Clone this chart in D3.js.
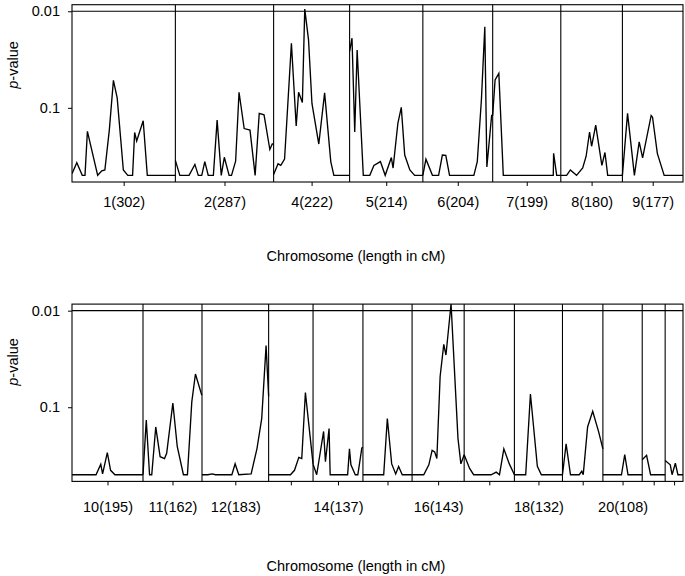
<!DOCTYPE html>
<html><head><meta charset="utf-8">
<script src="https://cdn.jsdelivr.net/npm/d3@7"></script>
<style>body{margin:0;background:#fff}</style>
</head><body>
<script>
// ---- data ----
const topChroms = ["1","2","4","5","6","7","8","9"];
const topLengths = [302,287,222,214,204,199,180,177];
const botChroms = ["10","11","12","13","14","15","16","17","18","19","20","21","22"];
const botLengths = [195,162,183,122,137,135,143,138,132,111,108,63,49];
const botLabelled = ["10","11","12","14","16","18","20"];
const yTicks = [0.01, 0.1];
const threshold = 0.01;

// [position in cM, p-value]
const chr1 = [[0,0.48],[14,0.37],[30,0.5],[38,0.5],[45,0.175],[75,0.5],[87,0.45],[96,0.44],[109,0.17],[121,0.052],[132,0.079],[150,0.44],[163,0.5],[177,0.5],[183,0.18],[189,0.22],[208,0.136],[220,0.5],[302,0.5]];
const chr2 = [[0,0.35],[13,0.5],[40,0.5],[57,0.385],[67,0.5],[77,0.5],[86,0.36],[96,0.5],[111,0.5],[122,0.134],[134,0.5],[143,0.325],[157,0.5],[164,0.5],[176,0.357],[186,0.069],[201,0.164],[218,0.17],[233,0.5],[245,0.114],[259,0.118],[276,0.27],[283,0.237],[287,0.237]];
const chr4 = [[0,0.49],[13,0.38],[21,0.395],[32,0.34],[52,0.0215],[66,0.154],[73,0.069],[84,0.088],[91,0.0095],[102,0.0198],[112,0.09],[132,0.237],[149,0.07],[167,0.36],[176,0.5],[222,0.5]];
const chr5 = [[0,0.026],[7,0.019],[15,0.178],[22,0.0252],[40,0.5],[59,0.5],[71,0.395],[90,0.36],[104,0.5],[122,0.327],[127,0.42],[141,0.145],[151,0.099],[161,0.308],[176,0.44],[190,0.5],[214,0.5]];
const chr6 = [[0,0.5],[9,0.34],[28,0.5],[46,0.5],[57,0.308],[67,0.31],[78,0.5],[149,0.5],[159,0.36],[171,0.083],[181,0.0145],[187,0.41],[201,0.12],[204,0.12]];
const chr7 = [[0,0.12],[7,0.0515],[18,0.044],[31,0.5],[177,0.5],[178,0.296],[187,0.5],[199,0.5]];
const chr8 = [[0,0.5],[17,0.5],[28,0.44],[46,0.5],[64,0.42],[74,0.317],[84,0.178],[90,0.25],[102,0.151],[120,0.395],[129,0.29],[137,0.5],[180,0.5]];
const chr9 = [[0,0.5],[15,0.114],[35,0.5],[49,0.225],[59,0.33],[84,0.12],[88,0.125],[102,0.296],[122,0.5],[177,0.5]];
const chr10 = [[0,0.5],[66,0.5],[79,0.39],[84,0.49],[97,0.295],[106,0.45],[118,0.5],[195,0.5]];
const chr11 = [[0,0.5],[9,0.136],[18,0.5],[24,0.5],[35,0.16],[47,0.325],[59,0.34],[65,0.3],[82,0.0905],[94,0.254],[111,0.5],[122,0.5],[134,0.088],[144,0.0453],[161,0.074],[162,0.075]];
const chr12 = [[0,0.5],[16,0.5],[28,0.49],[37,0.5],[82,0.5],[91,0.385],[101,0.5],[135,0.49],[151,0.268],[164,0.131],[176,0.023],[183,0.077]];
const chr13 = [[0,0.5],[60,0.5],[71,0.45],[83,0.33],[91,0.34],[101,0.0705],[122,0.386]];
const chr14 = [[0,0.39],[10,0.5],[29,0.178],[34,0.366],[44,0.166],[47,0.5],[95,0.5],[100,0.27],[104,0.395],[116,0.5],[123,0.5],[134,0.264],[137,0.26]];
const chr15 = [[0,0.5],[57,0.5],[67,0.131],[79,0.386],[90,0.49],[98,0.41],[108,0.5],[135,0.5]];
const chr16 = [[0,0.5],[32,0.5],[46,0.395],[55,0.28],[62,0.29],[68,0.34],[77,0.048],[87,0.0223],[93,0.0288],[107,0.0085],[126,0.21],[134,0.386],[143,0.31]];
const chr17 = [[0,0.31],[15,0.43],[26,0.5],[74,0.5],[88,0.47],[97,0.5],[109,0.27],[124,0.386],[138,0.5]];
const chr18 = [[0,0.5],[31,0.5],[44,0.073],[63,0.41],[74,0.5],[132,0.5]];
const chr19 = [[0,0.5],[10,0.24],[22,0.5],[46,0.5],[53,0.46],[57,0.5],[69,0.16],[83,0.11],[99,0.178],[111,0.27]];
const chr20 = [[0,0.5],[51,0.5],[60,0.31],[69,0.5],[108,0.5]];
const chr21 = [[0,0.35],[12,0.315],[23,0.5],[63,0.5]];
const chr22 = [[0,0.357],[14,0.395],[19,0.5],[28,0.38],[35,0.5],[49,0.5]];

const topSeries = [chr1,chr2,chr4,chr5,chr6,chr7,chr8,chr9];
const botSeries = [chr10,chr11,chr12,chr13,chr14,chr15,chr16,chr17,chr18,chr19,chr20,chr21,chr22];

// ---- drawing ----
const W = 685, H = 576;
const FONT = "'Liberation Sans', Arial, Helvetica, sans-serif";
const FS = "14.5px";
const svg = d3.select("body").append("svg")
  .attr("width", W).attr("height", H)
  .style("font-family", FONT);

const L = 72, R = 683;
const pLow = Math.pow(10, -0.232), pHigh = Math.pow(10, -2.068);

function panel(cfg, idx) {
  const { chroms, lengths, series, labelled, top, bottom, labelBase, titleBase, ylabY } = cfg;
  const total = d3.sum(lengths);
  const offsets = d3.cumsum([0, ...lengths]);
  const x = d3.scaleLinear().domain([0, total]).range([L, R]);
  const y = d3.scaleLog().domain([pLow, pHigh]).range([bottom, top]);
  const g = svg.append("g");

  const clipId = "clip" + idx;
  svg.append("clipPath").attr("id", clipId)
    .append("rect").attr("x", L).attr("y", top).attr("width", R - L).attr("height", bottom - top);

  // data lines
  const line = d3.line().x(d => d[0]).y(d => d[1]);
  const gl = g.append("g").attr("clip-path", `url(#${clipId})`);
  series.forEach((s, i) => {
    const pts = s.map(d => [x(offsets[i] + d[0]), y(d[1])]);
    gl.append("path").attr("d", line(pts))
      .attr("fill", "none").attr("stroke", "#000")
      .attr("stroke-width", 1.35).attr("stroke-linejoin", "miter");
  });

  // separators
  g.selectAll("line.sep").data(offsets.slice(1, -1)).join("line")
    .attr("class", "sep")
    .attr("x1", d => x(d)).attr("x2", d => x(d))
    .attr("y1", top).attr("y2", bottom)
    .attr("stroke", "#000").attr("stroke-width", 1.1);

  // threshold line
  g.append("line").attr("x1", L).attr("x2", R)
    .attr("y1", y(threshold)).attr("y2", y(threshold))
    .attr("stroke", "#000").attr("stroke-width", 1.1);

  // frame
  g.append("rect").attr("x", L).attr("y", top).attr("width", R - L).attr("height", bottom - top)
    .attr("fill", "none").attr("stroke", "#000").attr("stroke-width", 1.1);

  // y axis
  const ya = g.append("g").attr("transform", `translate(${L},0)`)
    .call(d3.axisLeft(y).tickValues(yTicks).tickSize(4).tickPadding(8).tickFormat(d => String(d)));
  ya.select(".domain").remove();
  ya.selectAll("text").style("font-size", FS).style("font-family", FONT).attr("fill", "#000");
  ya.selectAll("line").attr("stroke", "#000");

  // x axis
  const centers = lengths.map((l, i) => offsets[i] + l / 2);
  const xa = g.append("g").attr("transform", `translate(0,${bottom})`)
    .call(d3.axisBottom(x).tickValues(centers).tickSize(4)
      .tickFormat((d, i) => labelled.includes(chroms[i]) ? `${chroms[i]}(${lengths[i]})` : ""));
  xa.select(".domain").remove();
  xa.selectAll("text").attr("y", labelBase - bottom).attr("dy", 0)
    .style("font-size", FS).style("font-family", FONT).attr("fill", "#000");
  xa.selectAll("line").attr("stroke", "#000");

  // axis titles
  g.append("text").attr("x", 356).attr("y", titleBase)
    .attr("text-anchor", "middle").style("font-size", FS)
    .text("Chromosome (length in cM)");

  const yl = g.append("text")
    .attr("transform", `translate(18,${ylabY}) rotate(-90)`)
    .attr("text-anchor", "middle").style("font-size", FS);
  yl.append("tspan").style("font-style", "italic").text("p");
  yl.append("tspan").text("-value");
}

panel({ chroms: topChroms, lengths: topLengths, series: topSeries, labelled: topChroms,
        top: 4.7, bottom: 182, labelBase: 207, titleBase: 261, ylabY: 65 }, 0);
panel({ chroms: botChroms, lengths: botLengths, series: botSeries, labelled: botLabelled,
        top: 304.1, bottom: 481.4, labelBase: 512, titleBase: 571, ylabY: 362 }, 1);
</script>
</body></html>
